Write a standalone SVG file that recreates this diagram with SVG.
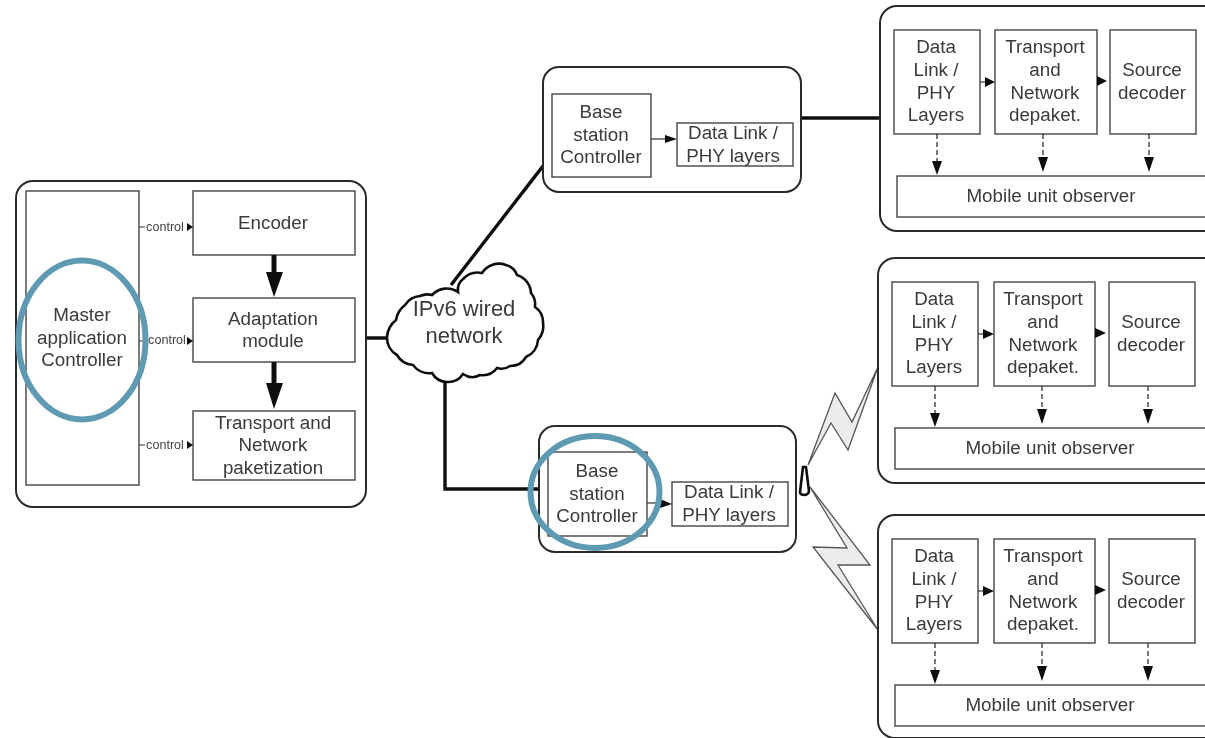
<svg xmlns="http://www.w3.org/2000/svg" width="1205" height="738" viewBox="0 0 1205 738">
<defs>
<style>
.c{fill:#fff;stroke:#2a2a2a;stroke-width:2}
.b{fill:#fff;stroke:#444;stroke-width:1.4}
.t{font-family:"Liberation Sans",Arial,sans-serif;font-size:18.8px;fill:#3a3a3a;text-anchor:middle;transform:translateY(.8px)}
.l{font-size:22px}
.s{font-family:"Liberation Sans",Arial,sans-serif;font-size:12.6px;fill:#444;text-anchor:middle}
.w{fill:none;stroke:#111;stroke-width:3.4}
.n{fill:none;stroke:#333;stroke-width:1.2}
.d{fill:none;stroke:#333;stroke-width:1.3;stroke-dasharray:5 3}
.h{fill:#111;stroke:none}
.o{fill:none;stroke:#5f9ab3;stroke-width:6}
.z{fill:#ececec;stroke:#555;stroke-width:1.3;stroke-linejoin:miter}
</style>
<filter id="soft" x="-2%" y="-2%" width="104%" height="104%"><feGaussianBlur stdDeviation="0.6"/></filter>
</defs>
<rect width="1205" height="738" fill="#fff"/>
<g filter="url(#soft)">
<g id="connectors">
<path class="w" d="M366 338H390M451 285L543 166M445 380V489H541M800 118H881"/>
</g>
<g id="source-unit">
<rect class="c" x="16" y="181" width="350" height="326" rx="17"/>
<rect class="b" x="26" y="191" width="113" height="294"/>
<text class="t" x="82" y="320">Master</text>
<text class="t" x="82" y="343">application</text>
<text class="t" x="82" y="365">Controller</text>
<rect class="b" x="193" y="191" width="162" height="64"/>
<text class="t" x="273" y="228">Encoder</text>
<rect class="b" x="193" y="298" width="162" height="64"/>
<text class="t" x="273" y="324">Adaptation</text>
<text class="t" x="273" y="346">module</text>
<rect class="b" x="193" y="411" width="162" height="69"/>
<text class="t" x="273" y="428">Transport and</text>
<text class="t" x="273" y="450">Network</text>
<text class="t" x="273" y="473">paketization</text>
<path class="n" d="M139 227H145M139 341H147M139 445H145"/>
<text class="s" x="165" y="231">control</text>
<text class="s" x="167" y="344">control</text>
<text class="s" x="165" y="449">control</text>
<path class="h" d="M187 223L193 227L187 231ZM187 337L193 341L187 345ZM187 441L193 445L187 449Z"/>
<path d="M274 255V273M274 362V384" stroke="#111" stroke-width="5" fill="none"/>
<path class="h" d="M266 272H283L274 297ZM266 383H283L274 409Z"/>
</g>
<g id="cloud">
<path fill="#fff" stroke="#111" stroke-width="2.6" d="M387 337A24 24 0 0 1 396 320A24 24 0 0 1 405 305A20 20 0 0 1 420 296A18 18 0 0 1 432 295A20 20 0 0 1 458 292A14 14 0 0 1 463 279A20 20 0 0 1 482 273A20 20 0 0 1 506 265A16 16 0 0 1 517 275A20 20 0 0 1 531 293A18 18 0 0 1 535 307A18 18 0 0 1 543 322A22 22 0 0 1 538 340A20 20 0 0 1 526 357A18 18 0 0 1 510 366A15 15 0 0 1 497 368A18 18 0 0 1 480 375A16 16 0 0 1 463 374A18 18 0 0 1 447 382A18 18 0 0 1 432 373A20 20 0 0 1 413 365A20 20 0 0 1 397 355A20 20 0 0 1 387 337Z"/>
<text class="t l" x="464" y="315">IPv6 wired</text>
<text class="t l" x="464" y="342">network</text>
</g>
<g id="base-station-1">
<rect class="c" x="543" y="67" width="258" height="125" rx="16"/>
<rect class="b" x="552" y="94" width="99" height="83"/>
<text class="t" x="601" y="117">Base</text>
<text class="t" x="601" y="140">station</text>
<text class="t" x="601" y="162">Controller</text>
<rect class="b" x="677" y="123" width="116" height="43"/>
<text class="t" x="733" y="138">Data Link /</text>
<text class="t" x="733" y="161">PHY layers</text>
<path class="n" d="M651 139H668"/>
<path class="h" d="M665 135L677 139L665 143Z"/>
</g>
<g id="base-station-2">
<rect class="c" x="539" y="426" width="257" height="126" rx="16"/>
<rect class="b" x="548" y="452" width="99" height="84"/>
<text class="t" x="597" y="476">Base</text>
<text class="t" x="597" y="499">station</text>
<text class="t" x="597" y="521">Controller</text>
<rect class="b" x="672" y="482" width="116" height="44"/>
<text class="t" x="729" y="497">Data Link /</text>
<text class="t" x="729" y="520">PHY layers</text>
<path class="n" d="M647 503H664"/>
<path class="h" d="M660 499L672 504L660 508Z"/>
</g>
<g id="wireless">
<path class="z" d="M878 367L852 422L835 393L808 465L831 423L848 450Z"/>
<path class="z" d="M878 630L838 565L870 565L810 487L847 548L813 547Z"/>
<path fill="#fff" stroke="#111" stroke-width="2.6" d="M803 467H806L809 491Q809 494 805 495Q800 495 800 492Z"/>
</g>
<g id="mobile-unit-1">
<rect class="c" x="880" y="6" width="345" height="225" rx="17"/>
<rect class="b" x="894" y="30" width="86" height="104"/>
<text class="t" x="936" y="52">Data</text>
<text class="t" x="936" y="75">Link /</text>
<text class="t" x="936" y="98">PHY</text>
<text class="t" x="936" y="120">Layers</text>
<rect class="b" x="995" y="30" width="102" height="104"/>
<text class="t" x="1045" y="52">Transport</text>
<text class="t" x="1045" y="75">and</text>
<text class="t" x="1045" y="98">Network</text>
<text class="t" x="1045" y="120">depaket.</text>
<rect class="b" x="1110" y="30" width="86" height="104"/>
<text class="t" x="1152" y="75">Source</text>
<text class="t" x="1152" y="98">decoder</text>
<rect class="b" x="897" y="176" width="320" height="41"/>
<text class="t" x="1051" y="201">Mobile unit observer</text>
<path class="n" d="M980 82H986"/>
<path class="h" d="M985 77L995 82L985 87ZM1097 76L1107 81L1097 86Z"/>
<path class="d" d="M937 134V163M1043 134V160M1149 134V160"/>
<path class="h" d="M932 161H942L937 175ZM1038 157H1048L1043 172ZM1144 157H1154L1149 172Z"/>
</g>
<g id="mobile-unit-2">
<rect class="c" x="878" y="258" width="345" height="225" rx="17"/>
<rect class="b" x="892" y="282" width="86" height="104"/>
<text class="t" x="934" y="304">Data</text>
<text class="t" x="934" y="327">Link /</text>
<text class="t" x="934" y="350">PHY</text>
<text class="t" x="934" y="372">Layers</text>
<rect class="b" x="994" y="282" width="101" height="104"/>
<text class="t" x="1043" y="304">Transport</text>
<text class="t" x="1043" y="327">and</text>
<text class="t" x="1043" y="350">Network</text>
<text class="t" x="1043" y="372">depaket.</text>
<rect class="b" x="1109" y="282" width="86" height="104"/>
<text class="t" x="1151" y="327">Source</text>
<text class="t" x="1151" y="350">decoder</text>
<rect class="b" x="895" y="428" width="320" height="41"/>
<text class="t" x="1050" y="453">Mobile unit observer</text>
<path class="n" d="M978 334H984"/>
<path class="h" d="M983 329L994 334L983 339ZM1095 328L1106 333L1095 338Z"/>
<path class="d" d="M935 386V415M1042 386V412M1148 386V412"/>
<path class="h" d="M930 413H940L935 427ZM1037 409H1047L1042 424ZM1143 409H1153L1148 424Z"/>
</g>
<g id="mobile-unit-3">
<rect class="c" x="878" y="515" width="345" height="223" rx="17"/>
<rect class="b" x="892" y="539" width="86" height="104"/>
<text class="t" x="934" y="561">Data</text>
<text class="t" x="934" y="584">Link /</text>
<text class="t" x="934" y="607">PHY</text>
<text class="t" x="934" y="629">Layers</text>
<rect class="b" x="994" y="539" width="101" height="104"/>
<text class="t" x="1043" y="561">Transport</text>
<text class="t" x="1043" y="584">and</text>
<text class="t" x="1043" y="607">Network</text>
<text class="t" x="1043" y="629">depaket.</text>
<rect class="b" x="1109" y="539" width="86" height="104"/>
<text class="t" x="1151" y="584">Source</text>
<text class="t" x="1151" y="607">decoder</text>
<rect class="b" x="895" y="685" width="320" height="41"/>
<text class="t" x="1050" y="710">Mobile unit observer</text>
<path class="n" d="M978 591H984"/>
<path class="h" d="M983 586L994 591L983 596ZM1095 585L1106 590L1095 595Z"/>
<path class="d" d="M935 643V672M1042 643V669M1148 643V669"/>
<path class="h" d="M930 670H940L935 684ZM1037 666H1047L1042 681ZM1143 666H1153L1148 681Z"/>
</g>
<g id="highlights">
<ellipse class="o" cx="82" cy="340" rx="63.5" ry="79.5"/>
<ellipse class="o" cx="595" cy="492" rx="64.5" ry="56"/>
</g>
</g>
</svg>
